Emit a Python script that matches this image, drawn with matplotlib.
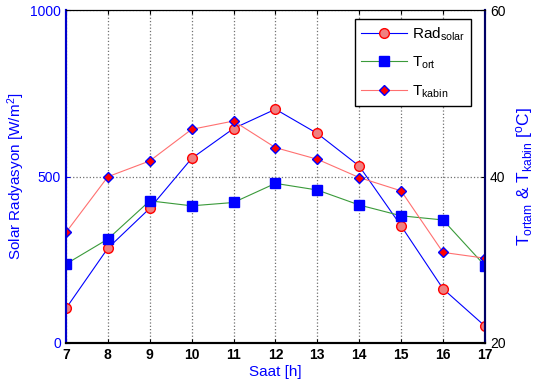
import matplotlib.pyplot as plt
import numpy as np

plt.rcParams['font.family'] = ['Liberation Sans', 'DejaVu Sans']
plt.rcParams['mathtext.default'] = 'regular'

saat = [7, 8, 9, 10, 11, 12, 13, 14, 15, 16, 17]
rad_solar = [104, 285, 405, 555, 645, 703, 630, 532, 352, 163, 51]
t_ort = [29.5, 32.5, 37.1, 36.5, 36.9, 39.2, 38.4, 36.6, 35.3, 34.8, 29.3]
t_kabin = [33.3, 40.0, 41.9, 45.7, 46.7, 43.5, 42.1, 39.9, 38.3, 30.9, 30.2]

fig = plt.figure(figsize=(5.43, 3.87), dpi=100)
ax = fig.add_axes([0.1215, 0.1137, 0.7715, 0.8593])
ax2 = ax.twinx()

l1, = ax.plot(saat, rad_solar, '-o', color='blue', lw=0.8, ms=7,
              mfc='#f08080', mec='red', mew=1, label='Rad$_{solar}$')
l2, = ax2.plot(saat, t_ort, '-s', color='#3a9a3a', lw=0.8, ms=7,
               mfc='blue', mec='blue', label='T$_{ort}$')
l3, = ax2.plot(saat, t_kabin, '-D', color='#ff7070', lw=0.8, ms=5.5,
               mfc='red', mec='blue', mew=1, label='T$_{kabin}$')

ax.set_xlim(7, 17)
ax.set_ylim(0, 1000)
ax.set_yticks([0, 500, 1000])
ax.set_xticks(saat)
ax2.set_ylim(20, 60)
ax2.set_yticks([20, 40, 60])

ax.grid(True, color='#707070', ls=':', lw=0.9)
ax.tick_params(direction='in', top=True, labelsize=10, length=3)
ax.tick_params(axis='y', colors='blue', labelcolor='blue')
ax.tick_params(axis='x', colors='black')
for lab in ax.get_xticklabels():
    lab.set_fontweight('bold')
ax2.tick_params(direction='in', labelsize=10, length=3, colors='black')

for a in (ax, ax2):
    a.spines['left'].set_color('#0000cc')
    a.spines['left'].set_linewidth(1.5)
    a.spines['right'].set_color('#000066')
    a.spines['right'].set_linewidth(1.5)
    a.spines['bottom'].set_linewidth(1.5)

ax.set_xlabel('Saat [h]', color='blue', fontsize=11, labelpad=2)
ax.set_ylabel('Solar Radyasyon [W/m$^2$]', color='blue', fontsize=11, labelpad=2)
ax2.set_ylabel('T$_{ortam}$ & T$_{kabin}$ [$^o$C]', color='blue', fontsize=12.5, labelpad=6)

ax2.legend(handles=[l1, l2, l3], loc='upper right', bbox_to_anchor=(0.985, 0.997),
           fancybox=False, edgecolor='black', framealpha=1, fontsize=11,
           handlelength=3.0, handletextpad=0.3, borderpad=0.4, labelspacing=0.8)

fig.savefig('out.png', dpi=100)
